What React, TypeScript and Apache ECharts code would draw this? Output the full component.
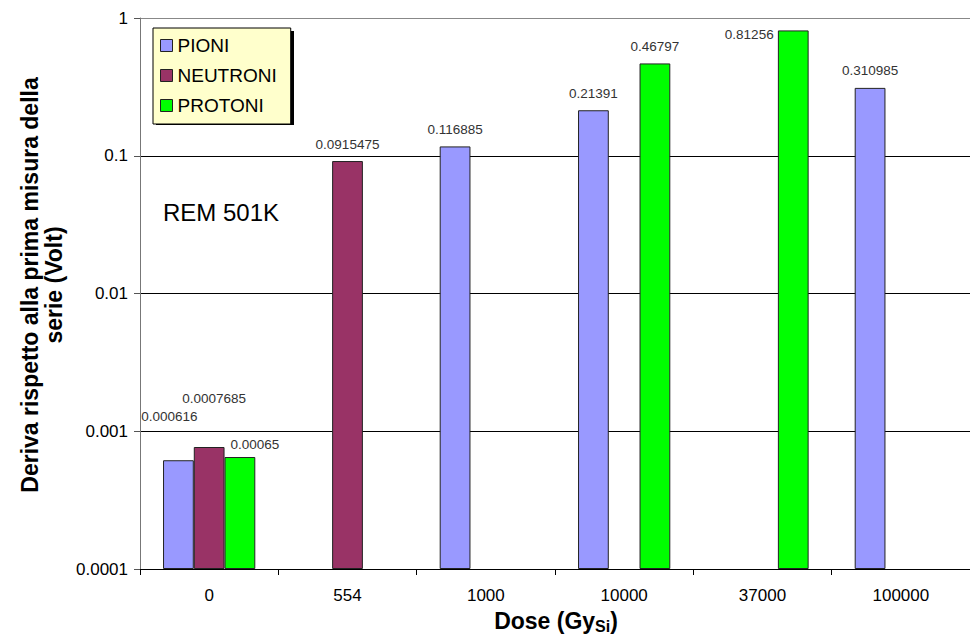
import React, { useEffect, useRef } from 'react';
import * as echarts from 'echarts';

// Dose categories (Gy Si) and drift values (Volt) per particle beam
const doses = ['0', '554', '1000', '10000', '37000', '100000'];
const pioni: (number | null)[] = [0.000616, null, 0.116885, 0.21391, null, 0.310985];
const neutroni: (number | null)[] = [0.0007685, 0.0915475, null, null, null, null];
const protoni: (number | null)[] = [0.00065, null, null, 0.46797, 0.81256, null];
const yTicks = [0.0001, 0.001, 0.01, 0.1, 1];

const FONT = 'Liberation Sans, Arial, sans-serif';

// nudges for labels that would otherwise collide
const labelNudge: Record<string, [number, number]> = {
  'PIONI:0': [-9, -27],
  'NEUTRONI:0': [5, -32],
  'PROTONI:0': [15, 4],
  'PROTONI:4': [-44, 21],
};

const seriesDefs = [
  { name: 'PIONI', values: pioni, color: '#9999FF' },
  { name: 'NEUTRONI', values: neutroni, color: '#993366' },
  { name: 'PROTONI', values: protoni, color: '#00FF00' },
];

export default function App() {
  const ref = useRef<HTMLDivElement>(null);

  useEffect(() => {
    if (!ref.current) return;
    const chart = echarts.init(ref.current, null, { renderer: 'svg' });

    const series = seriesDefs.map((s) => ({
      name: s.name,
      type: 'bar',
      barGap: '0%',
      barCategoryGap: '33.3%',
      itemStyle: { color: s.color, borderColor: '#222', borderWidth: 1 },
      label: {
        show: true,
        position: 'top',
        distance: 10,
        fontSize: 13.5,
        fontFamily: FONT,
        color: '#333',
        formatter: (p: any) => String(p.value),
      },
      data: s.values.map((v, i) => {
        if (v == null) return '-';
        const nudge = labelNudge[`${s.name}:${i}`];
        return nudge ? { value: v, label: { offset: nudge } } : { value: v };
      }),
    }));

    chart.setOption({
      animation: false,
      backgroundColor: '#ffffff',
      grid: { left: 140, top: 18, right: 0, bottom: 67, containLabel: false },
      xAxis: {
        type: 'category',
        data: doses,
        axisLine: { lineStyle: { color: '#000', width: 1 } },
        axisTick: { show: true, length: 6, lineStyle: { color: '#000' } },
        axisLabel: { fontSize: 17, fontFamily: FONT, color: '#000', margin: 18 },
      },
      yAxis: {
        type: 'log',
        logBase: 10,
        min: yTicks[0],
        max: yTicks[yTicks.length - 1],
        startValue: yTicks[0],
        axisLine: { show: true, lineStyle: { color: '#777', width: 1 } },
        axisTick: { show: true, length: 6, lineStyle: { color: '#555' } },
        axisLabel: {
          fontSize: 17,
          fontFamily: FONT,
          color: '#000',
          margin: 12,
          formatter: (v: number) => {
            let best = yTicks[0];
            yTicks.forEach((t) => {
              if (Math.abs(Math.log10(t) - Math.log10(v)) < Math.abs(Math.log10(best) - Math.log10(v))) best = t;
            });
            return String(best);
          },
        },
        splitLine: {
          show: true,
          lineStyle: { color: ['#000', '#000', '#000', '#000', '#888'], width: 1 },
        },
      },
      legend: {
        orient: 'vertical',
        left: 153,
        top: 28,
        padding: [8, 14, 9, 7],
        itemGap: 11,
        itemWidth: 12,
        itemHeight: 12,
        backgroundColor: '#FFFFCC',
        borderColor: '#000',
        borderWidth: 1,
        z: 5,
        textStyle: { fontSize: 19, fontFamily: FONT, color: '#000' },
        itemStyle: { borderColor: '#222', borderWidth: 1 },
        data: seriesDefs.map((s) => ({ name: s.name, icon: 'rect' })),
      },
      graphic: [
        {
          type: 'rect',
          z: 1,
          shape: { x: 156, y: 31, width: 138, height: 94 },
          style: { fill: '#000' },
        },
        {
          type: 'text',
          x: 163,
          y: 212,
          style: {
            text: 'REM 501K',
            font: `24px ${FONT}`,
            fill: '#000',
            textAlign: 'left',
            textVerticalAlign: 'middle',
          },
        },
        {
          type: 'text',
          x: 42,
          y: 285,
          rotation: Math.PI / 2,
          style: {
            text: 'Deriva rispetto alla prima misura della\nserie (Volt)',
            font: `bold 23px ${FONT}`,
            lineHeight: 24,
            fill: '#000',
            textAlign: 'center',
            textVerticalAlign: 'middle',
          },
        },
        {
          type: 'text',
          x: 556,
          y: 621,
          style: {
            text: '{b|Dose (Gy}{s|Si}{b|)}',
            textAlign: 'center',
            textVerticalAlign: 'middle',
            rich: {
              b: { fontSize: 23, fontWeight: 'bold', fontFamily: FONT, fill: '#000' },
              s: { fontSize: 16, fontWeight: 'bold', fontFamily: FONT, fill: '#000', padding: [10, 0, 0, 0] },
            },
          },
        },
      ],
      series,
    });

    return () => chart.dispose();
  }, []);

  return <div ref={ref} style={{ width: 970, height: 636, position: 'absolute', left: 0, top: 0 }} />;
}
